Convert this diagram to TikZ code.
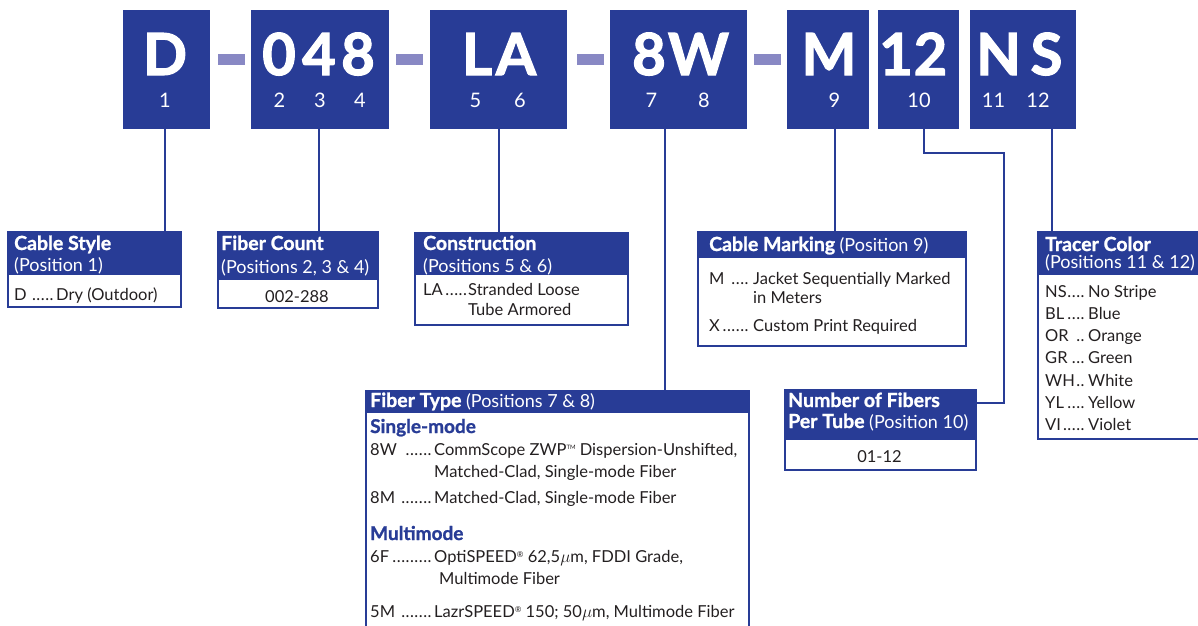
\documentclass[tikz,border=0pt]{standalone}
\usepackage{fontspec}
\setmainfont{Lato}
\newfontfamily\heavyfont{Lato}[BoldFeatures={FakeBold=1.2}]
\newfontfamily\bigheavy{Lato}[BoldFeatures={FakeBold=2}]
\definecolor{cblue}{RGB}{40,60,150}
\definecolor{dashc}{RGB}{136,136,196}
\definecolor{txtc}{RGB}{35,31,32}
\newcommand\ldr[2]{\hbox to #1pt{#2\leaders\hbox to 4.4pt{\hss.\hss}\hfill\hskip 1pt}}
\newcommand\supTM{\raisebox{5.5pt}{\fontsize{6}{6}\selectfont TM}}
\newcommand\supR{\raisebox{5pt}{\fontsize{8}{8}\selectfont ®}}
\newcommand\tb[1]{{\heavyfont\bfseries\fontsize{19.5}{22}\selectfont #1}}
\begin{document}
\begin{tikzpicture}[x=1pt,y=-1pt,
 topbox/.style={fill=cblue, inner sep=0, minimum height=119, anchor=north west},
 dashbar/.style={fill=dashc, inner sep=0, minimum width=27, minimum height=11},
 bigch/.style={text=white, inner sep=0, anchor=base, font=\bigheavy\bfseries\fontsize{58}{60}\selectfont},
 posn/.style={text=white, inner sep=0, anchor=base, font=\fontsize{20}{22}\selectfont},
 hdr/.style={fill=cblue, inner sep=0, anchor=north west},
 frame/.style={draw=cblue, line width=1.5, inner sep=0, anchor=north west},
 conn/.style={draw=cblue, line width=2},
 ttl/.style={text=white, inner sep=0, anchor=base west, font=\fontsize{18}{20}\selectfont},
 bod/.style={text=txtc, inner sep=0, anchor=base west, font=\fontsize{16.5}{18}\selectfont},
 subh/.style={text=cblue, inner sep=0, anchor=base west, font=\heavyfont\bfseries\fontsize{19}{20}\selectfont},
]
\useasboundingbox (0,0) rectangle (1198,625);
% top code boxes
\node[topbox, minimum width=87] (bD) at (123,10) {};
\node[topbox, minimum width=138] (b048) at (251,10) {};
\node[topbox, minimum width=137] (bLA) at (430,10) {};
\node[topbox, minimum width=137] (b8W) at (610,10) {};
\node[topbox, minimum width=82] (bM) at (787,10) {};
\node[topbox, minimum width=81] (b12) at (878,10) {};
\node[topbox, minimum width=106] (bNS) at (970,10) {};
\node[dashbar] (d1) at (231.5,59) {};
\node[dashbar] (d2) at (409.5,59) {};
\node[dashbar] (d3) at (590,59) {};
\node[dashbar] (d4) at (767,59) {};
% big characters
\node[bigch] (cD) at (165,75) {D};
\node[bigch] (c0) at (279,75) {0};
\node[bigch] (c4) at (319,75) {4};
\node[bigch] (c8a) at (358,75) {8};
\node[bigch] (cL) at (477,75) {L};
\node[bigch] (cA) at (516,75) {A};
\node[bigch] (c8b) at (649,75) {8};
\node[bigch] (cW) at (698.5,75) {W};
\node[bigch] (cM) at (829,75) {M};
\node[bigch] (c1) at (896,75) {1};
\node[bigch] (c2) at (930.5,75) {2};
\node[bigch] (cN) at (998.5,75) {N};
\node[bigch] (cS) at (1046.5,75) {S};
% position numbers
\node[posn] (p1) at (165,107) {1};
\node[posn] (p2) at (279.5,107) {2};
\node[posn] (p3) at (320,107) {3};
\node[posn] (p4) at (360,107) {4};
\node[posn] (p5) at (475.5,107) {5};
\node[posn] (p6) at (520,107) {6};
\node[posn] (p7) at (651.5,107) {7};
\node[posn] (p8) at (704,107) {8};
\node[posn] (p9) at (834.5,107) {9};
\node[posn] (p10) at (919,107) {10};
\node[posn] (p11) at (993.5,107) {11};
\node[posn] (p12) at (1038,107) {12};
% info boxes
\node[hdr, minimum width=173, minimum height=44] (csh) at (7,231) {};
\node[frame, minimum width=173, minimum height=75] (cs) at (7,231) {};
\node[hdr, minimum width=160, minimum height=49] (fch) at (217,231) {};
\node[frame, minimum width=160, minimum height=76] (fc) at (217,231) {};
\node[hdr, minimum width=213, minimum height=43] (coh) at (414,232) {};
\node[frame, minimum width=213, minimum height=92] (co) at (414,232) {};
\node[hdr, minimum width=268, minimum height=27] (cmh) at (697,231) {};
\node[frame, minimum width=268, minimum height=114] (cm) at (697,231) {};
\node[hdr, minimum width=165, minimum height=44] (tch) at (1037,231) {};
\node[frame, minimum width=165, minimum height=207] (tc) at (1037,231) {};
\node[hdr, minimum width=383, minimum height=23] (fth) at (365,390) {};
\node[frame, minimum width=383, minimum height=240] (ft) at (365,390) {};
\node[hdr, minimum width=191, minimum height=51] (nfh) at (784,389) {};
\node[frame, minimum width=191, minimum height=80] (nf) at (784,389) {};
% connectors
\coordinate (k8) at (665,129);
\coordinate (k12) at (924,129);
\coordinate (k12b) at (1004,153);
\coordinate (nfj) at (975,403);
\coordinate (kNS) at (1052,129);
\draw[conn] (bD.south -| cD) -- (cs.north -| cD);
\draw[conn] (b048.south -| c4) -- (fc.north -| c4);
\draw[conn] (bLA.south) -- (bLA.south |- co.north);
\draw[conn] (k8) -- (k8 |- ft.north);
\draw[conn] (bM.south -| p9) -- (cm.north -| p9);
\draw[conn] (k12) |- (k12b) |- (nfj);
\draw[conn] (kNS) -- (kNS |- tc.north);
% Cable Style
\node[ttl] (t1a) at (14,250) {\tb{Cable Style}};
\node[ttl] (t1b) at (14,271) {(Position 1)};
\node[bod] (t1c) at (14,300) {\ldr{42}{D }Dry (Outdoor)};
% Fiber Count
\node[ttl] (t2a) at (221,250) {\tb{Fiber Count}};
\node[ttl] (t2b) at (221,273) {(Positions 2, 3 \& 4)};
\node[bod, anchor=base] (t2c) at (297,302) {002-288};
% Construction
\node[ttl] (t3a) at (423,250) {\tb{Construction}};
\node[ttl] (t3b) at (423,272) {(Positions 5 \& 6)};
\node[bod] (t3c) at (423,295) {\ldr{45}{LA}Stranded Loose};
\node[bod] (t3d) at (468,315) {Tube Armored};
% Cable Marking
\node[ttl] (t4a) at (709,251) {\tb{Cable Marking} (Position 9)};
\node[bod] (t4b) at (709,284.5) {\ldr{44}{M }Jacket Sequentially Marked};
\node[bod] (t4c) at (753,303) {in Meters};
\node[bod] (t4d) at (709,331) {\ldr{44}{X}Custom Print Required};
% Tracer Color
\node[ttl] (t5a) at (1045,251) {\tb{Tracer Color}};
\node[ttl] (t5b) at (1045,268.5) {(Positions 11 \& 12)};
\node[bod] (t5c) at (1045,297) {\ldr{43}{NS}No Stripe};
\node[bod] (t5d) at (1045,319) {\ldr{43}{BL}Blue};
\node[bod] (t5e) at (1045,341) {\ldr{43}{OR }Orange};
\node[bod] (t5f) at (1045,363.5) {\ldr{43}{GR}Green};
\node[bod] (t5g) at (1045,386) {\ldr{43}{WH}White};
\node[bod] (t5h) at (1045,408) {\ldr{43}{YL}Yellow};
\node[bod] (t5i) at (1045,430) {\ldr{43}{VI}Violet};
% Fiber Type
\node[ttl] (t6a) at (370,407) {\tb{Fiber Type} (Positions 7 \& 8)};
\node[subh] (t6b) at (370,433) {Single-mode};
\node[bod] (t6c) at (370,455) {\ldr{64}{8W }CommScope ZWP\supTM{} Dispersion-Unshifted,};
\node[bod] (t6d) at (434,477) {Matched-Clad, Single-mode Fiber};
\node[bod] (t6e) at (370,503) {\ldr{64}{8M }Matched-Clad, Single-mode Fiber};
\node[subh] (t6f) at (370,540) {Multimode};
\node[bod] (t6g) at (370,562) {\ldr{64}{6F}OptiSPEED\supR{} 62,5$\mu$m, FDDI Grade,};
\node[bod] (t6h) at (439,584) {Multimode Fiber};
\node[bod] (t6i) at (370,617) {\ldr{64}{5M }LazrSPEED\supR{} 150; 50$\mu$m, Multimode Fiber};
% Number of Fibers
\node[ttl] (t7a) at (788,407) {\tb{Number of Fibers}};
\node[ttl] (t7b) at (788,428) {\tb{Per Tube} (Position 10)};
\node[bod, anchor=base] (t7c) at (879.5,462) {01-12};
\end{tikzpicture}
\end{document}
